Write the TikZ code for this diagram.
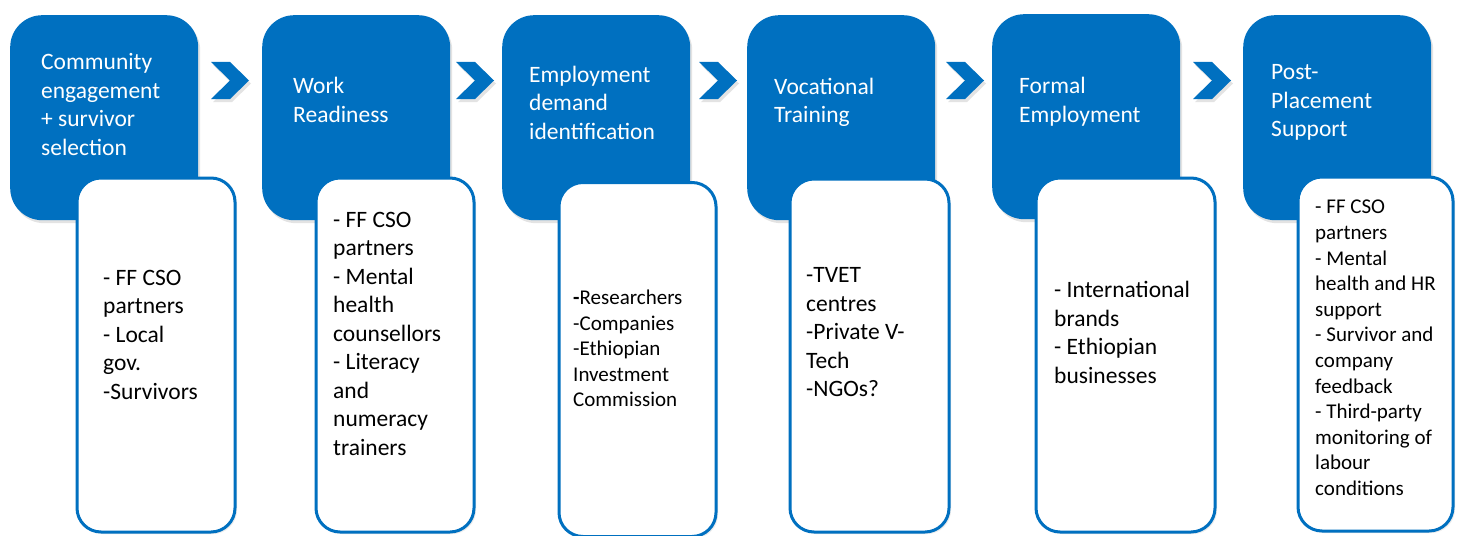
\documentclass[tikz,border=0pt]{standalone}
\usepackage{fontspec}
\setmainfont{Carlito}
\usetikzlibrary{shadows}
\definecolor{pblue}{HTML}{0070C0}
\begin{document}
\begin{tikzpicture}[x=1pt,y=-1pt,
  stagebox/.style={fill=pblue, rounded corners=32pt, inner sep=0pt, anchor=north west,
    minimum width=188pt, minimum height=205pt,
    drop shadow={shadow xshift=2pt,shadow yshift=-3pt,opacity=0.22}},
  actorbox/.style={fill=white, draw=pblue, line width=3pt, rounded corners=24pt, inner sep=0pt,
    anchor=north west, minimum height=354pt,
    drop shadow={shadow xshift=2pt,shadow yshift=-2pt,opacity=0.15}},
  ttl/.style={text=white, font=\fontsize{23.5}{28.5}\selectfont, align=left, inner sep=0pt, anchor=west},
  act/.style={text=black, font=\fontsize{23.5}{28.5}\selectfont, align=left, inner sep=0pt, anchor=west},
  actsmall/.style={text=black, font=\fontsize{21}{25.6}\selectfont, align=left, inner sep=0pt, anchor=west},
  chev/.style={fill=pblue, drop shadow={shadow xshift=2pt,shadow yshift=-3pt,opacity=0.22}}
]
\useasboundingbox (0,0) rectangle (1463,535);
\fill[white] (0,0) rectangle (1463,535);

% stage boxes
\node[stagebox] (s1) at (10,15) {};
\node[stagebox] (s2) at (262,15) {};
\node[stagebox] (s3) at (502,15) {};
\node[stagebox] (s4) at (747,15) {};
\node[stagebox] (s5) at (992,14) {};
\node[stagebox] (s6) at (1243,15) {};

% chevrons
\foreach \cx in {211,456,699,946,1193}{
  \fill[chev] (\cx,62) -- ++(19,0) -- ++(19,18.5) -- ++(-19,18.5) -- ++(-19,0) -- ++(19,-18.5) -- cycle;
}

% actor boxes
\node[actorbox, minimum width=158pt] (a1) at (75.5,176.5) {};
\node[actorbox, minimum width=158pt] (a2) at (314.5,176.5) {};
\node[actorbox, minimum width=157pt] (a3) at (557.5,181) {};
\node[actorbox, minimum width=159pt, minimum height=353pt] (a4) at (788.5,177.5) {};
\node[actorbox, minimum width=179pt] (a5) at (1034.5,176.5) {};
\node[actorbox, minimum width=155pt] (a6) at (1296.5,175.5) {};

% titles
\node[ttl] (t1) at (41,104.5) {Community\\engagement\\+ survivor\\selection};
\node[ttl] (t2) at (293,100) {Work\\Readiness};
\node[ttl] (t3) at (529,102.5) {Employment\\demand\\identification};
\node[ttl] (t4) at (774,102.5) {Vocational\\Training};
\node[ttl] (t5) at (1019,101.5) {Formal\\Employment};
\node[ttl] (t6) at (1271,102.5) {Post-\\Placement\\Support};

% actors
\node[act] (l1) at (103,334.5) {- FF CSO\\partners\\- Local\\gov.\\-Survivors};
\node[act] (l2) at (333,333.5) {- FF CSO\\partners\\- Mental\\health\\counsellors\\- Literacy\\and\\numeracy\\trainers};
\node[actsmall] (l3) at (573,348.5) {\textbf{-}Researchers\\-Companies\\-Ethiopian\\Investment\\Commission};
\node[act] (l4) at (806,332.5) {-TVET\\centres\\-Private V-\\Tech\\-NGOs?};
\node[act] (l5) at (1054,332.5) {- International\\brands\\- Ethiopian\\businesses};
\node[actsmall] (l6) at (1315,348) {- FF CSO\\partners\\- Mental\\health and HR\\support\\- Survivor and\\company\\feedback\\- Third-party\\monitoring of\\labour\\conditions};
\end{tikzpicture}
\end{document}
